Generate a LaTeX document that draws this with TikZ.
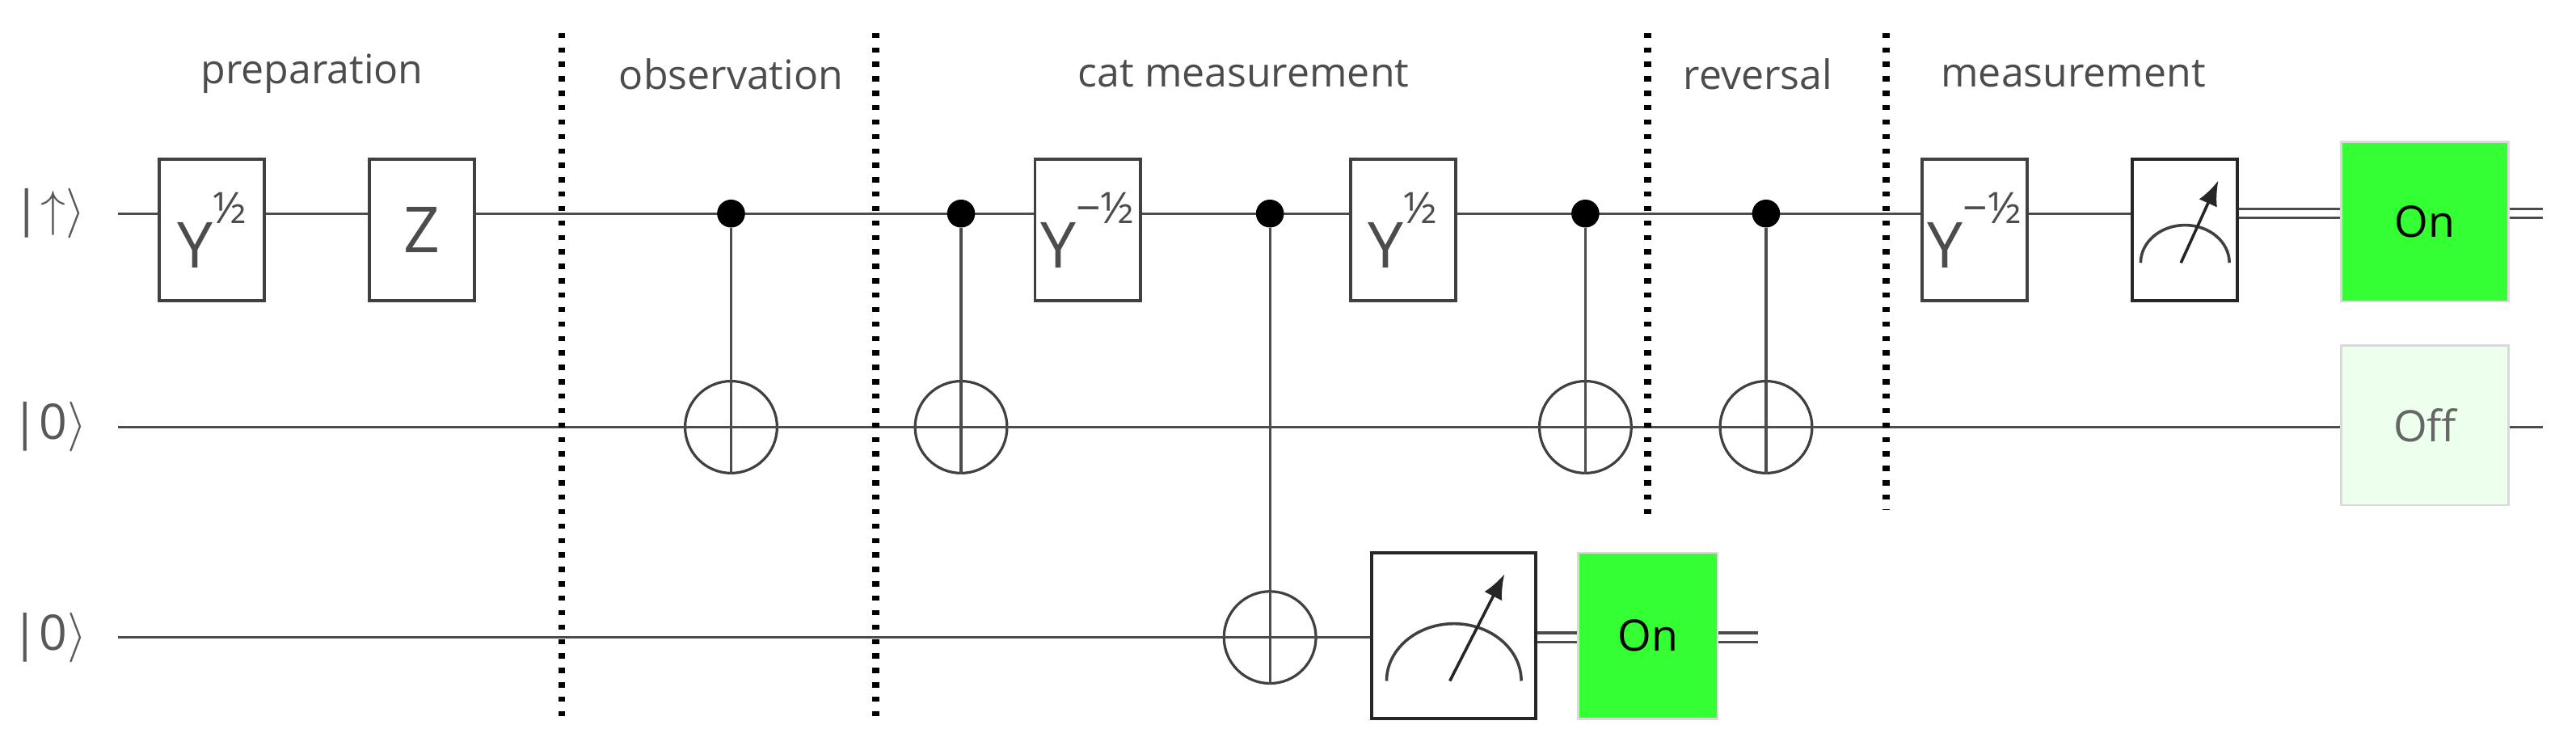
\documentclass[tikz,border=0pt]{standalone}
\usepackage{fontspec}
\usetikzlibrary{arrows.meta}
\setmainfont{Open Sans}
\definecolor{ongreen}{HTML}{33FF33}
\begin{document}
\begin{tikzpicture}[x=0.02cm,y=-0.02cm,
  wire/.style={draw=black!70,line width=0.9pt},
  cwire/.style={draw=black!70,line width=0.9pt,double distance=2.2pt},
  gate/.style={draw=black!75,line width=1.1pt,fill=white,minimum width=1.28cm,minimum height=1.72cm,inner sep=0pt,font=\fontsize{22}{24}\selectfont,text=black!70},
  meter/.style={draw=black!85,line width=1.1pt,fill=white,minimum width=2.0cm,minimum height=2.02cm,inner sep=0pt},
  res/.style={draw=black!15,line width=0.8pt,minimum width=2.04cm,minimum height=1.94cm,inner sep=0pt,font=\fontsize{15}{17}\selectfont},
  ctrl/.style={circle,fill=black,inner sep=0pt,minimum size=0.34cm},
  targ/.style={circle,draw=black!75,line width=0.9pt,fill=white,minimum size=1.12cm,inner sep=0pt},
  sec/.style={font=\fontsize{14}{16}\selectfont,text=black!70},
  ket/.style={font=\fontsize{17}{19}\selectfont,text=black!65,inner sep=0pt},
  sep/.style={draw=black,line width=2.4pt,dash pattern=on 1.8pt off 3.2pt}]
\useasboundingbox (0,0) rectangle (1568,454);
% labels
\node[ket] (k1) at (30,130) {|$\uparrow\rangle$};
\node[ket] (k2) at (30,260) {|0$\rangle$};
\node[ket] (k3) at (30,388) {|0$\rangle$};
\coordinate (s1) at (72,130); \coordinate (s2) at (72,260); \coordinate (s3) at (72,388);
\node[sec] (l1) at (190,45) {preparation};
\node[sec] (l2) at (445,45) {observation};
\node[sec] (l3) at (757,45) {cat measurement};
\node[sec] (l4) at (1070,45) {reversal};
\node[sec] (l5) at (1262,45) {measurement};
% end coordinates
\coordinate (e1) at (1548,130); \coordinate (e2) at (1548,260); \coordinate (e3) at (1070,388);
\coordinate (m1) at (1425,130); \coordinate (bm) at (835,388);
% wires (background)
\draw[wire] (s1) -- (m1);
\draw[wire] (s2) -- (e2);
\draw[wire] (s3) -- (bm);
% separators
\coordinate (d1a) at (342,20); \coordinate (d1b) at (342,440);
\coordinate (d2a) at (533,20); \coordinate (d2b) at (533,440);
\coordinate (d3a) at (1003,20); \coordinate (d3b) at (1003,315);
\coordinate (d4a) at (1148,20); \coordinate (d4b) at (1148,310);
\draw[sep] (d1a) -- (d1b); \draw[sep] (d2a) -- (d2b);
\draw[sep] (d3a) -- (d3b); \draw[sep] (d4a) -- (d4b);
% gates
\node[gate] (g1) at (129,140) {Y\raisebox{1.3ex}{\fontsize{15}{15}\selectfont ½}};
\node[gate] (g2) at (257,140) {Z};
\node[gate] (g3) at (662,140) {Y\raisebox{1.3ex}{\fontsize{15}{15}\selectfont −½}};
\node[gate] (g4) at (854,140) {Y\raisebox{1.3ex}{\fontsize{15}{15}\selectfont ½}};
\node[gate] (g5) at (1202,140) {Y\raisebox{1.3ex}{\fontsize{15}{15}\selectfont −½}};
% CNOTs
\foreach \n/\x/\t in {a/445/260,b/585/260,c/773/388,d/965/260,e/1075/260}{
  \node[targ] (t\n) at (\x,\t) {};
  \node[ctrl] (c\n) at (\x,130) {};
  \draw[wire] (c\n) -- (t\n.south);
  \draw[wire] (t\n.west) -- (t\n.east);
}
% meters
\node[meter,minimum width=1.28cm,minimum height=1.72cm] (mt1) at (1330,140) {};
\node[meter] (mt2) at (885,387) {};
\foreach \m/\r/\h in {mt1/0.54/0.4,mt2/0.82/0.55}{
  \draw[black!75,line width=1pt] ([xshift=-\r cm,yshift=-\h cm]\m.center) arc (180:0:\r cm and 0.85*\r cm);
  \draw[black!85,line width=1pt,-{Latex[length=0.3cm,width=0.24cm]}] ([xshift=-0.05cm,yshift=-\h cm]\m.center) -- ([xshift=0.75*\r cm,yshift=\h cm+0.2cm]\m.center);
}
% results
\node[res,fill=ongreen] (r1) at (1476,135) {On};
\node[res,fill=green!7,text=black!60] (r2) at (1476,259) {Off};
\node[res,fill=ongreen,minimum width=1.7cm,minimum height=2.02cm] (r3) at (1003,387) {On};
% classical wires
\draw[cwire] (mt1.east|-m1) -- (r1.west|-m1);
\draw[cwire] (r1.east|-m1) -- (e1);
\draw[cwire] (mt2.east|-e3) -- (r3.west|-e3);
\draw[cwire] (r3.east|-e3) -- (e3);
\end{tikzpicture}
\end{document}
